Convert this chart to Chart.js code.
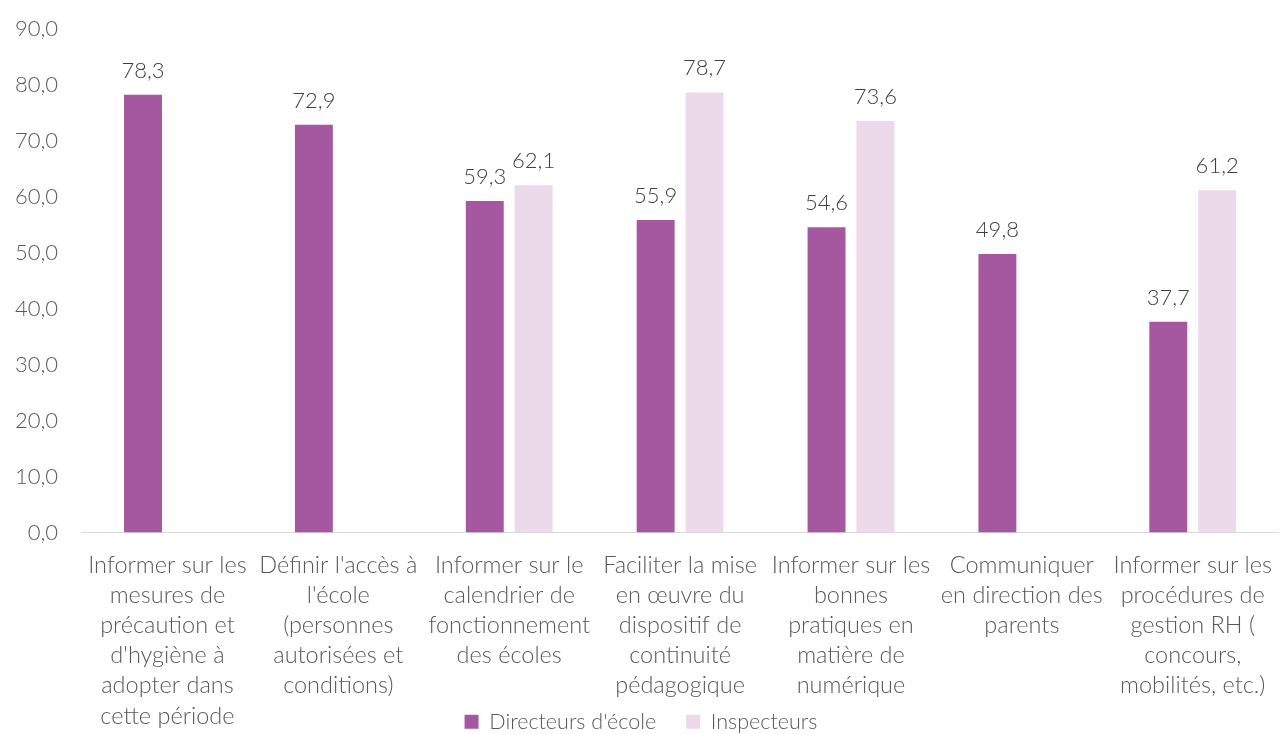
<!DOCTYPE html>
<html>
<head>
<meta charset="utf-8">
<script src="https://cdn.jsdelivr.net/npm/chart.js@4"></script>
<style>
  html, body { margin: 0; padding: 0; background: #fff; }
  #wrap { width: 1282px; height: 734px; }
</style>
</head>
<body>
<div id="wrap"><canvas id="chart"></canvas></div>
<script>
const categories = [
    ["Informer sur les", "mesures de", "précaution et", "d'hygiène à", "adopter dans", "cette période"],
    ["Définir l'accès à", "l'école", "(personnes", "autorisées et", "conditions)"],
    ["Informer sur le", "calendrier de", "fonctionnement", "des écoles"],
    ["Faciliter la mise", "en œuvre du", "dispositif de", "continuité", "pédagogique"],
    ["Informer sur les", "bonnes", "pratiques en", "matière de", "numérique"],
    ["Communiquer", "en direction des", "parents"],
    ["Informer sur les", "procédures de", "gestion RH (", "concours,", "mobilités, etc.)"]
];
const directeurs = [78.3, 72.9, 59.3, 55.9, 54.6, 49.8, 37.7];
const inspecteurs = [null, null, 62.1, 78.7, 73.6, null, 61.2];

const fontFamily = "Lato, 'Noto Sans', sans-serif";
const fmt = v => v.toFixed(1).replace(".", ",");

// draws the value above each bar
const valueLabels = {
    id: "valueLabels",
    afterDatasetsDraw(chart) {
        const ctx = chart.ctx;
        ctx.save();
        ctx.font = "300 22px " + fontFamily;
        ctx.fillStyle = "#404040";
        ctx.textAlign = "center";
        ctx.textBaseline = "alphabetic";
        chart.data.datasets.forEach((ds, i) => {
            chart.getDatasetMeta(i).data.forEach((bar, j) => {
                const v = ds.data[j];
                if (v === null) return;
                ctx.fillText(fmt(v), bar.x, bar.y - 17);
            });
        });
        ctx.restore();
    }
};

// the category labels run down behind the legend: let the x axis reach the bottom edge
// and pull the legend down into the label area, like the original
const longLabels = {
    id: "longLabels",
    afterLayout(chart) {
        chart.scales.x.bottom = chart.height;
        const h = chart.legend.bottom - chart.legend.top;
        chart.legend.top = 681;
        chart.legend.bottom = 681 + h;
    }
};

new Chart(document.getElementById("chart"), {
    type: "bar",
    data: {
        labels: categories,
        datasets: [
            { label: "Directeurs d'école", data: directeurs, backgroundColor: "#A5579F" },
            { label: "Inspecteurs", data: inspecteurs, backgroundColor: "#ECDAEB" }
        ]
    },
    options: {
        responsive: true,
        maintainAspectRatio: false,
        animation: false,
        categoryPercentage: 0.572,
        barPercentage: 0.776,
        layout: { autoPadding: false, padding: { top: 9, right: 0, left: 0, bottom: 0 } },
        plugins: {
            legend: {
                position: "bottom",
                labels: {
                    boxWidth: 14,
                    boxHeight: 14,
                    padding: 30,
                    color: "#595959",
                    font: { family: fontFamily, size: 21.5, weight: 300, lineHeight: 1.0 }
                }
            },
            tooltip: { enabled: false }
        },
        scales: {
            x: {
                grid: { display: false },
                border: { display: true, color: "#d9d9d9", width: 1 },
                afterFit: scale => { scale.height = 140; },
                ticks: {
                    color: "#595959",
                    maxRotation: 0,
                    autoSkip: false,
                    padding: 10,
                    font: { family: fontFamily, size: 23.5, weight: 300, lineHeight: 1.28 }
                }
            },
            y: {
                min: 0,
                max: 90,
                grid: { display: false },
                border: { display: false },
                afterFit: scale => { scale.width = 82; },
                ticks: {
                    stepSize: 10,
                    color: "#595959",
                    padding: 16,
                    font: { family: fontFamily, size: 22, weight: 300 },
                    callback: v => fmt(v)
                }
            }
        }
    },
    plugins: [valueLabels, longLabels]
});
</script>
</body>
</html>
